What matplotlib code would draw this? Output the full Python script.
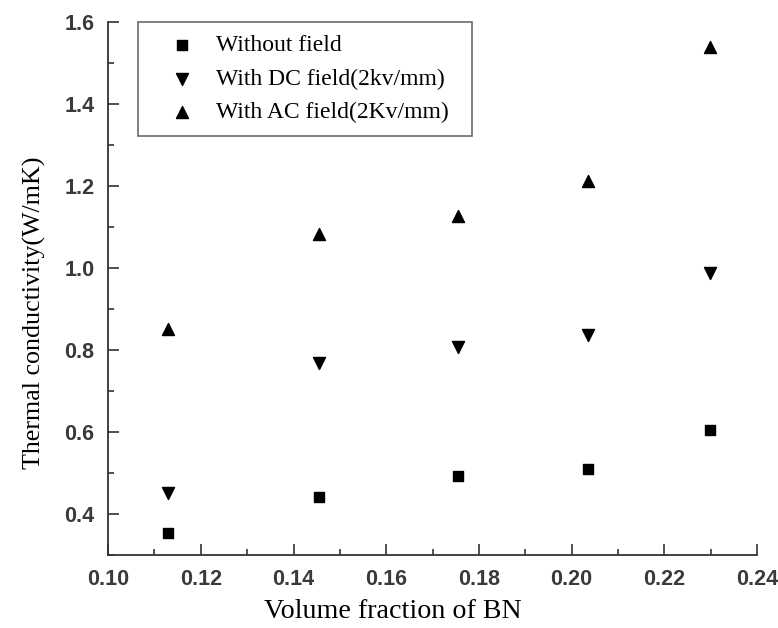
import numpy as np
import matplotlib.pyplot as plt
from matplotlib.ticker import MultipleLocator

# volume fraction of BN
bn_frac = [0.113, 0.1455, 0.1755, 0.2035, 0.2298]
# thermal conductivity (W/mK)
k_none = [0.355, 0.443, 0.492, 0.511, 0.606]
k_dc = [0.451, 0.768, 0.807, 0.837, 0.989]
k_ac = [0.851, 1.083, 1.126, 1.212, 1.540]

labels = ["Without field", "With DC field(2kv/mm)", "With AC field(2Kv/mm)"]

fig = plt.figure(figsize=(7.78, 6.28), dpi=100)
ax = fig.add_axes([0.139, 0.116, 0.834, 0.849])

ax.scatter(bn_frac, k_none, marker="s", s=62, color="black", label=labels[0])
ax.scatter(bn_frac, k_dc, marker="v", s=75, color="black", label=labels[1])
ax.scatter(bn_frac, k_ac, marker="^", s=75, color="black", label=labels[2])

ax.set_xlim(0.10, 0.24)
ax.set_ylim(0.3, 1.6)
ax.xaxis.set_major_locator(MultipleLocator(0.02))
ax.xaxis.set_minor_locator(MultipleLocator(0.01))
ax.yaxis.set_minor_locator(MultipleLocator(0.1))
ax.set_yticks(np.arange(0.4, 1.61, 0.2))

for s in ("top", "right"):
    ax.spines[s].set_visible(False)
for s in ("left", "bottom"):
    ax.spines[s].set_linewidth(1.3)
    ax.spines[s].set_color("#333333")

ax.tick_params(which="both", direction="in", color="#333333", width=1.2)
ax.tick_params(which="major", length=8, labelcolor="#3a3a3a")
ax.tick_params(axis="x", which="major", pad=10)
ax.tick_params(axis="y", which="major", pad=10)
ax.tick_params(which="minor", length=4.5)
tick_font = dict(family="Liberation Sans", size=15.5, weight="bold")
ax.set_xticklabels([f"{v:.2f}" for v in ax.get_xticks()], **tick_font)
ax.set_yticklabels([f"{v:.1f}" for v in ax.get_yticks()], **tick_font)

ax.set_xlabel("Volume fraction of BN", family="Liberation Serif", fontsize=20.2)
ax.set_ylabel("Thermal conductivity(W/mK)", family="Liberation Serif", fontsize=18.7)
ax.xaxis.set_label_coords(0.438, -0.083)
ax.yaxis.set_label_coords(-0.096, 0.455)

leg = ax.legend(loc="upper left", bbox_to_anchor=(0.046, 0.0, 0.515, 1.0), mode="expand",
                frameon=True, fancybox=False,
                prop={"family": "Liberation Serif", "size": 17}, borderpad=0.55,
                labelspacing=0.5, handlelength=2.6, handletextpad=0.15, borderaxespad=0)
leg.get_frame().set_edgecolor("#444444")
leg.get_frame().set_linewidth(1.2)

fig.savefig("out.png", dpi=100)
